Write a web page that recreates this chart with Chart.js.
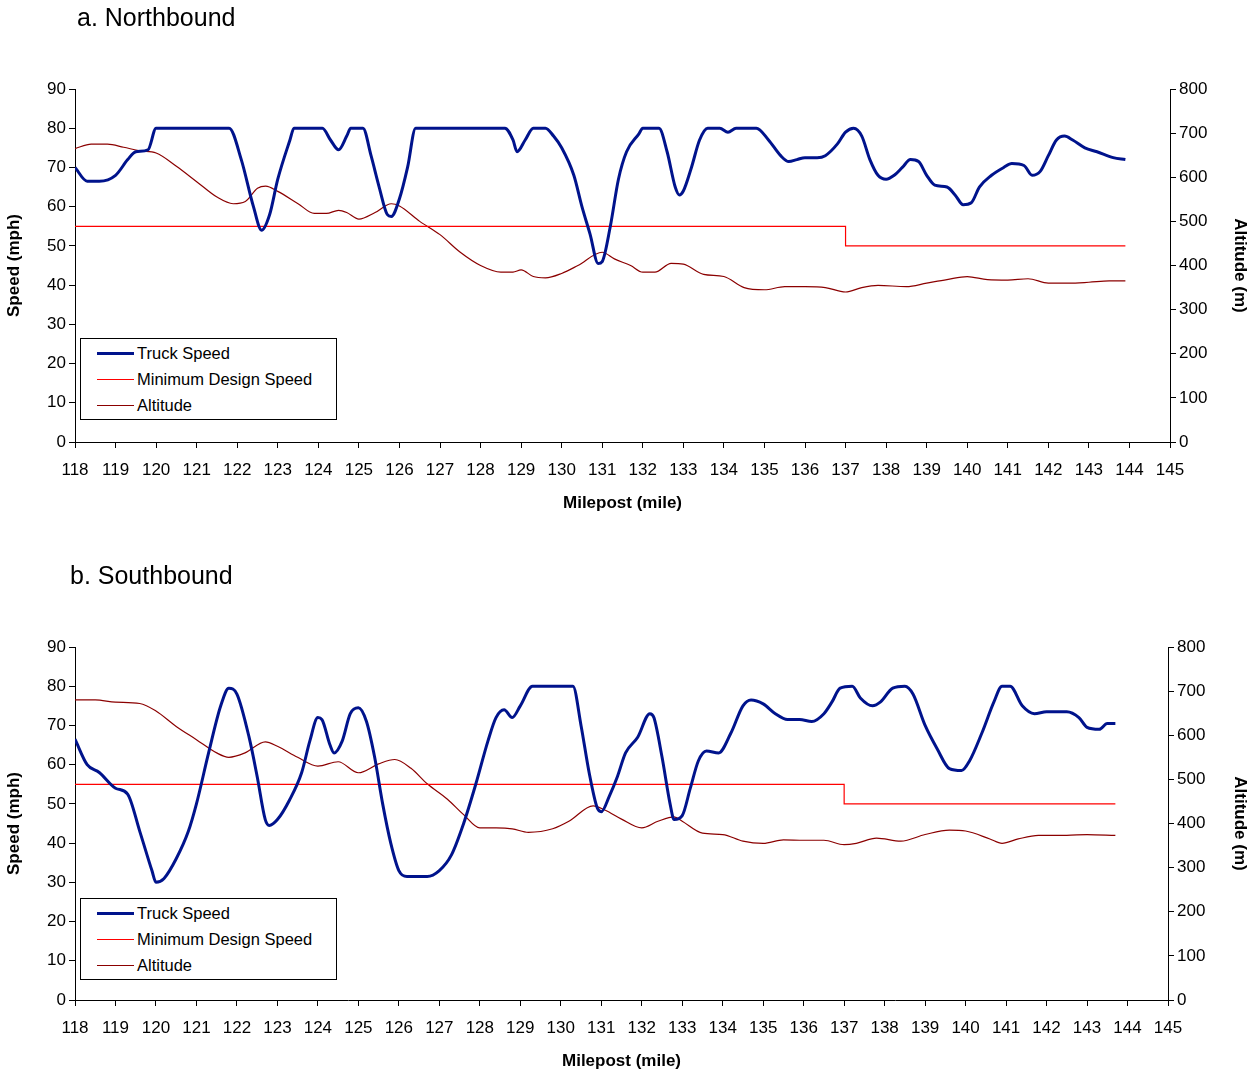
<!DOCTYPE html>
<html><head><meta charset="utf-8">
<script src="https://cdn.jsdelivr.net/npm/chart.js@4/dist/chart.umd.min.js"></script>
<style>
body{margin:0;background:#fff;font-family:"Liberation Sans",Arial,sans-serif;}
.panel{position:absolute;left:0;width:1254px;height:540px;}
.ttl{position:absolute;font-size:25px;color:#000;}
.leg{position:absolute;border:1px solid #000;background:#fff;font-size:16.5px;width:255px;height:80px;}
.leg div{position:relative;height:26px;line-height:26px;padding-left:56px;}
.leg span{position:absolute;left:16px;top:13px;width:37px;}
</style></head><body>
<div class="panel" style="top:0"><canvas id="c1" width="1254" height="540"></canvas></div>
<div class="panel" style="top:558px"><canvas id="c2" width="1254" height="540"></canvas></div>
<div class="ttl" style="left:77px;top:3px">a. Northbound</div>
<div class="ttl" style="left:70px;top:561px">b. Southbound</div>
<div class="leg" style="left:80px;top:338px"><div style="margin-top:1px"><span style="border-top:3px solid #00138C;top:12px"></span>Truck Speed</div><div><span style="border-top:1px solid #FF0000"></span>Minimum Design Speed</div><div><span style="border-top:1px solid #8B0000"></span>Altitude</div></div>
<div class="leg" style="left:80px;top:898px"><div style="margin-top:1px"><span style="border-top:3px solid #00138C;top:12px"></span>Truck Speed</div><div><span style="border-top:1px solid #FF0000"></span>Minimum Design Speed</div><div><span style="border-top:1px solid #8B0000"></span>Altitude</div></div>
<script>
const xTicks=[118,145];
const nbSpeedX=[118,118.3,118.6,119,119.3,119.5,119.8,120,121.8,122.1,122.4,122.6,122.8,123,123.3,123.4,124.1,124.3,124.5,124.7,124.8,125.1,125.3,125.5,125.7,125.8,126,126.2,126.4,128.6,128.8,128.9,129.1,129.3,129.6,129.8,130,130.3,130.5,130.7,130.9,131,131.2,131.4,131.6,131.9,132,132.4,132.6,132.8,132.9,133,133.2,133.4,133.6,133.9,134.1,134.3,134.8,135.1,135.4,135.6,135.8,136,136.3,136.5,136.8,137,137.2,137.4,137.6,137.8,138,138.2,138.4,138.6,138.8,139,139.2,139.5,139.7,139.9,140.1,140.3,140.6,140.9,141.1,141.4,141.6,141.8,142,142.2,142.4,142.6,142.9,143.2,143.6,143.9];
const nbSpeedY=[70,66.5,66.5,68,72,74,74.5,80,80,72,60,54,58,67,77,80,80,77,74.5,78,80,80,73,65,58,57.5,62,70,80,80,77,74,77,80,80,78,75,68,60,53,45.5,46,55,67,74,78.5,80,80,74,65,63,64,70,77,80,80,79,80,80,77,73,71.5,72,72.5,72.5,73,76,79,80,78,72,68,67,68,70,72,71.5,68,65.5,65,63,60.5,61,65,68,70,71,70.5,68,69,73,77,78,77,75,74,72.5,72];
const nbAltX=[118,118.4,118.8,119.2,119.6,120,120.5,121,121.5,121.9,122.2,122.5,122.7,123,123.5,123.9,124.2,124.5,124.7,125,125.4,125.8,126,126.5,127,127.5,128,128.5,128.8,129,129.3,129.6,130,130.4,131,131.3,131.7,132,132.3,132.7,133,133.5,134,134.5,135,135.5,136,136.5,137,137.4,137.8,138.5,139,139.5,140,140.5,141,141.5,142,142.5,143,143.5,143.9];
const nbAltY=[665,675,675,668,660,655,625,590,555,540,545,575,580,568,540,518,518,525,520,505,520,540,535,500,470,430,400,385,385,390,375,372,382,400,430,415,400,385,385,405,403,380,375,350,345,352,352,350,340,350,355,352,360,368,375,368,367,370,360,360,362,365,365];
const nbMinX=[118,137,137,143.9];
const nbMinY=[55,55,50,50];
const sbSpeedX=[118,118.3,118.6,119,119.3,119.6,119.9,120,120.2,120.5,120.8,121,121.3,121.6,121.8,122,122.3,122.5,122.7,122.8,123,123.3,123.6,123.8,124,124.1,124.3,124.4,124.6,124.8,125,125.2,125.4,125.6,125.8,126,126.2,126.7,127,127.3,127.6,127.9,128.2,128.4,128.6,128.8,129,129.3,130.3,130.5,130.7,130.9,131,131.2,131.4,131.6,131.9,132.2,132.3,132.5,132.7,132.8,133,133.2,133.4,133.6,133.9,134.2,134.5,134.7,135,135.3,135.6,135.9,136.2,136.5,136.7,136.9,137.2,137.4,137.7,137.9,138.2,138.5,138.7,139,139.3,139.6,139.9,140.1,140.4,140.7,140.9,141.1,141.4,141.7,142,142.5,142.8,143,143.3,143.5,143.7];
const sbSpeedY=[66.5,60,58,54,52.5,43,33,30,31,36,43,50,63,75,79.5,78,67,57,46,44.5,46,51,58,66,72,71.5,65,63,66,73,74.5,71,62,50,40,33,31.5,31.5,33,37,45,55,66,72,74,72,75,80,80,70,58,49,48,52,57,63,67,73,72,62,50,46,47,54,61,63.5,63,68,75,76.5,75.5,73,71.5,71.5,71,73,76,79.5,80,77,75,76,79.5,80,78,70,64,59,58.5,61,68,76,80,80,75,73,73.5,73.5,72,69.5,69,70.5,70.5];
const sbAltX=[118,118.5,119,119.6,120,120.5,121,121.5,121.8,122.2,122.7,123,123.5,124,124.5,125,125.5,125.9,126.3,126.7,127.2,127.6,128,128.4,128.8,129.2,129.8,130.2,130.8,131.1,131.5,132,132.4,132.8,133,133.5,134,134.5,135,135.5,136,136.5,137,137.3,137.8,138.4,139,139.6,140,140.6,140.9,141.3,141.8,142.5,143,143.7];
const sbAltY=[680,680,675,672,655,620,590,560,550,560,585,575,550,530,540,515,535,545,525,490,455,420,390,390,388,380,388,405,440,430,410,390,405,415,405,378,375,360,355,363,362,362,352,355,367,360,375,385,383,365,355,365,373,373,375,373];
const sbMinX=[118,137,137,143.7];
const sbMinY=[55,55,50,50];
const zip=(a,b)=>a.map((x,i)=>({x,y:b[i]}));
const F={family:'"Liberation Sans", Arial, sans-serif',size:17};
const FB={family:'"Liberation Sans", Arial, sans-serif',size:17,weight:'bold'};
function make(id,sx,sy,ax,ay,mx,my,rightW){
 new Chart(document.getElementById(id),{type:'line',
 data:{datasets:[
  {data:zip(sx,sy),borderColor:'#00138C',borderWidth:3,pointRadius:0,cubicInterpolationMode:'monotone',yAxisID:'y',order:0},
  {data:zip(mx,my),borderColor:'#FF0000',borderWidth:1.2,pointRadius:0,yAxisID:'y',order:1},
  {data:zip(ax,ay),borderColor:'#8B0000',borderWidth:1.2,pointRadius:0,cubicInterpolationMode:'monotone',yAxisID:'y2',order:2}]},
 options:{responsive:false,animation:false,events:[],
  layout:{padding:{top:89,bottom:22,left:0,right:0}},
  plugins:{legend:{display:false},tooltip:{enabled:false}},
  scales:{
   x:{type:'linear',min:xTicks[0],max:xTicks[1],ticks:{stepSize:1,color:'#000',font:F,maxRotation:0,autoSkip:false,padding:12},
      grid:{drawOnChartArea:false,tickLength:6,color:'#000'},border:{color:'#000',width:1},
      title:{display:true,text:'Milepost (mile)',color:'#000',font:FB},afterFit:s=>{s.height=76;}},
   y:{min:0,max:90,ticks:{stepSize:10,color:'#000',font:F},grid:{drawOnChartArea:false,tickLength:6,color:'#000'},border:{color:'#000'},
      title:{display:true,text:'Speed (mph)',color:'#000',font:FB},afterFit:s=>{s.width=75;}},
   y2:{position:'right',min:0,max:800,ticks:{stepSize:100,color:'#000',font:F},grid:{drawOnChartArea:false,tickLength:6,color:'#000'},border:{color:'#000'},
      title:{display:true,text:'Altitude (m)',color:'#000',font:FB},afterFit:s=>{s.width=rightW;}}
  }}});
}
make('c1',nbSpeedX,nbSpeedY,nbAltX,nbAltY,nbMinX,nbMinY,84);
make('c2',sbSpeedX,sbSpeedY,sbAltX,sbAltY,sbMinX,sbMinY,86);
</script></body></html>
